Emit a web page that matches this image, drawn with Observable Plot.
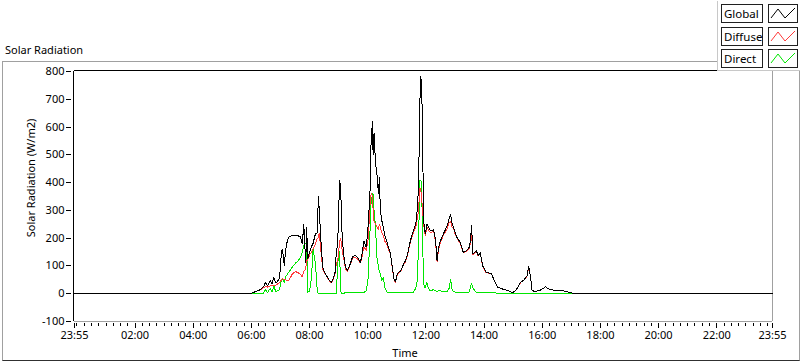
<!DOCTYPE html>
<html><head><meta charset="utf-8">
<script src="https://cdn.jsdelivr.net/npm/d3@7"></script>
<script src="https://cdn.jsdelivr.net/npm/@observablehq/plot@0.6"></script>
<style>
body{margin:0;background:#fff;font-family:"Noto Sans",sans-serif;color:#000;}
#wrap{position:relative;width:800px;height:361px;overflow:hidden;background:#fff;}
#title{position:absolute;left:5px;top:42px;font-size:11px;}
#frame{position:absolute;left:2px;top:61px;width:796px;height:298px;border-left:1px solid #a0a0a0;border-top:1px solid #a0a0a0;border-right:1px solid #a0a0a0;border-bottom:1px solid #303030;}
#chart{position:absolute;left:0;top:0;}
#ytitle{position:absolute;left:30px;top:178px;transform:translate(-50%,-50%) rotate(-90deg);font-size:11px;white-space:nowrap;}
#xtitle{position:absolute;left:405px;top:345px;transform:translateX(-50%);font-size:11px;}
#legend{position:absolute;left:717px;top:1px;width:82px;height:69px;background:#fff;border-left:1px solid #c8c8c8;border-bottom:1px solid #c8c8c8;}
.lab{position:absolute;left:3px;width:39px;height:17px;border:1px solid #202020;font-size:11.5px;line-height:17px;padding-left:2px;box-sizing:border-box;width:42px;height:19px;background:#fff;}
.sw{position:absolute;left:50px;width:30px;height:19px;border:1px solid #202020;box-sizing:border-box;background:#fff;}
</style></head>
<body>
<div id="wrap">
  <div id="title">Solar Radiation</div>
  <div id="frame"></div>
  <div id="chart"></div>
  <div id="ytitle">Solar Radiation (W/m2)</div>
  <div id="xtitle">Time</div>
  <div id="legend"></div>
</div>
<script>
const seriesNames = ["Global", "Diffuse", "Direct"];
const seriesColors = ["#000000", "#ff3a3a", "#00e600"];

const times = ["23:55","05:54","06:02","06:12","06:19","06:25","06:29","06:33","06:39","06:43","06:46","06:50","06:54","06:58",
"07:02","07:04","07:08","07:10","07:14","07:18","07:24","07:31","07:37","07:41","07:45","07:48","07:52","07:54","07:56",
"08:00","08:04","08:07","08:12","08:16","08:18","08:20","08:23","08:27","08:31","08:37","08:41","08:45","08:49","08:53","08:55","08:58",
"09:00","09:02","09:04","09:07","09:10","09:14","09:18","09:24","09:29","09:35","09:39","09:45","09:49","09:52","09:57",
"10:01","10:05","10:07","10:10","10:11","10:13","10:16","10:19","10:22","10:24","10:26","10:29","10:32","10:35","10:39","10:43","10:47","10:51","10:54","10:57",
"11:01","11:08","11:14","11:18","11:22","11:28","11:34","11:39","11:42","11:45","11:47","11:49","11:51","11:53","11:55","11:57","11:59",
"12:02","12:05","12:09","12:16","12:20","12:23","12:26","12:30","12:36","12:44","12:48","12:51","12:54","12:57",
"13:01","13:04","13:11","13:14","13:17","13:24","13:29","13:32","13:34","13:37","13:44","13:48","13:52","13:57",
"14:04","14:15","14:21","14:28","14:38","14:49","14:59",
"15:06","15:15","15:22","15:29","15:32","15:36","15:39","15:46","15:56",
"16:07","16:13","16:24","16:38","16:48","16:58","17:06","23:55"];

const globalValues = [0,0,3,10,15,25,40,28,47,35,60,38,45,55,
150,160,100,150,190,205,209,209,208,205,180,250,110,240,125,
150,170,180,215,220,350,300,200,95,77,59,47,41,55,80,150,180,
300,410,385,216,144,95,83,108,135,137,131,113,150,191,167,
250,380,560,623,500,580,470,430,360,420,299,263,239,210,191,165,143,90,55,41,
72,83,107,120,143,191,227,250,299,395,650,785,760,600,275,230,216,
251,240,227,230,191,119,167,191,215,245,270,287,251,239,
215,203,185,167,149,155,167,191,248,143,155,137,149,101,
77,73,47,23,17,11,4,
13,41,49,65,101,59,11,8,13,
25,17,13,13,8,4,0,0];

const diffuseValues = [0,0,3,10,15,22,25,24,28,28,30,30,35,40,
50,55,50,50,48,50,70,80,75,70,60,80,90,120,120,
140,150,160,180,200,200,220,160,90,75,58,46,40,54,75,110,120,
150,190,200,160,130,90,80,105,130,130,125,110,140,170,155,
200,330,360,350,300,260,250,240,230,250,240,220,210,190,180,160,140,88,54,40,
70,80,105,115,140,185,220,240,270,300,380,380,350,300,260,220,210,
240,230,220,225,185,115,160,185,210,235,255,260,240,235,
210,200,180,165,147,152,162,185,220,140,152,135,147,100,
76,72,46,23,17,11,4,
13,40,48,64,100,58,11,8,13,
25,17,13,13,8,4,0,0];

const directValues = [0,0,0,0,0,2,15,3,20,5,30,8,10,15,
50,55,40,60,70,80,95,110,120,130,150,175,180,175,5,
10,60,160,110,5,0,0,0,0,0,0,0,0,0,0,0,100,
155,150,10,0,0,5,5,5,5,5,5,5,5,5,10,
60,240,335,360,360,300,240,131,95,80,72,47,59,23,7,3,3,3,3,3,
3,3,5,3,3,3,5,20,47,180,407,410,400,216,47,20,25,
41,20,10,15,10,8,10,10,8,8,20,53,15,8,
5,5,5,5,5,5,5,25,37,20,5,5,5,3,
3,3,3,2,0,0,0,
0,0,0,0,0,0,0,0,0,
0,0,0,0,0,0,0,0];

const yTicks = [-100, 0, 100, 200, 300, 400, 500, 600, 700, 800];
const xTickLabels = ["23:55","02:00","04:00","06:00","08:00","10:00","12:00","14:00","16:00","18:00","20:00","22:00","23:55"];

function parseSeq(list) {
  let day = 0, prev = -1;
  return list.map(s => {
    const [h, m] = s.split(":").map(Number);
    const v = h * 60 + m;
    if (v < prev) day++;
    prev = v;
    return new Date(Date.UTC(2021, 0, 1) + (day * 1440 + v) * 60000);
  });
}

const dates = parseSeq(times);
const majorDates = parseSeq(xTickLabels);
const x0 = majorDates[0], x1 = majorDates[majorDates.length - 1];
const minorDates = d3.utcMinute.every(15).range(new Date(x0.getTime() + 5 * 60000), x1);

const valueSets = [globalValues, diffuseValues, directValues];
const rows = [];
seriesNames.forEach((name, k) => {
  valueSets[k].forEach((v, i) => rows.push({series: name, time: dates[i], value: v}));
});
const fmt = d3.utcFormat("%H:%M");

const lineFor = (name, k) => Plot.line(rows.filter(r => r.series === name), {
  x: "time", y: "value", stroke: seriesColors[k], strokeWidth: 1, strokeLinejoin: "miter"
});

const chart = Plot.plot({
  width: 800,
  height: 361,
  marginLeft: 74,
  marginRight: 28,
  marginTop: 70,
  marginBottom: 38,
  style: {fontFamily: "Noto Sans", fontSize: "11px", color: "#000", background: "transparent", overflow: "visible"},
  x: {type: "utc", domain: [x0, x1]},
  y: {domain: [-100, 800], range: [321, 71]},
  marks: [
    Plot.ruleY([800], {stroke: "#000", dy: -1}),
    Plot.ruleX([x0], {y1: -100, y2: 800, stroke: "#000", dx: -1}),
    Plot.ruleX([x1], {y1: -100, y2: 800, stroke: "#a0a0a0"}),
    Plot.ruleY([-100], {stroke: "#a0a0a0"}),
    lineFor("Direct", 2),
    lineFor("Diffuse", 1),
    lineFor("Global", 0),
    Plot.axisY({ticks: yTicks, tickSize: 5, tickPadding: 2, dx: -3, label: null, tickFormat: d => String(d)}),
    Plot.axisX({ticks: majorDates, tickSize: 5, tickPadding: 3, label: null, tickFormat: fmt}),
    Plot.axisX({ticks: minorDates, tickSize: 3, label: null, tickFormat: () => ""})
  ]
});
chart.setAttribute("shape-rendering", "crispEdges");
document.getElementById("chart").appendChild(chart);

// legend
const legend = document.getElementById("legend");
const rowTops = [3, 26, 48];
seriesNames.forEach((name, k) => {
  const lab = document.createElement("div");
  lab.className = "lab";
  lab.style.top = rowTops[k] + "px";
  lab.textContent = name;
  legend.appendChild(lab);
  const sw = document.createElementNS("http://www.w3.org/2000/svg", "svg");
  sw.setAttribute("class", "sw");
  sw.style.top = rowTops[k] + "px";
  sw.setAttribute("width", "30");
  sw.setAttribute("height", "19");
  const pl = document.createElementNS("http://www.w3.org/2000/svg", "polyline");
  pl.setAttribute("points", "2,13 9,4 16,13 26,3");
  pl.setAttribute("fill", "none");
  pl.setAttribute("stroke", seriesColors[k]);
  pl.setAttribute("stroke-width", "1");
  sw.appendChild(pl);
  legend.appendChild(sw);
});
</script>
</body></html>
